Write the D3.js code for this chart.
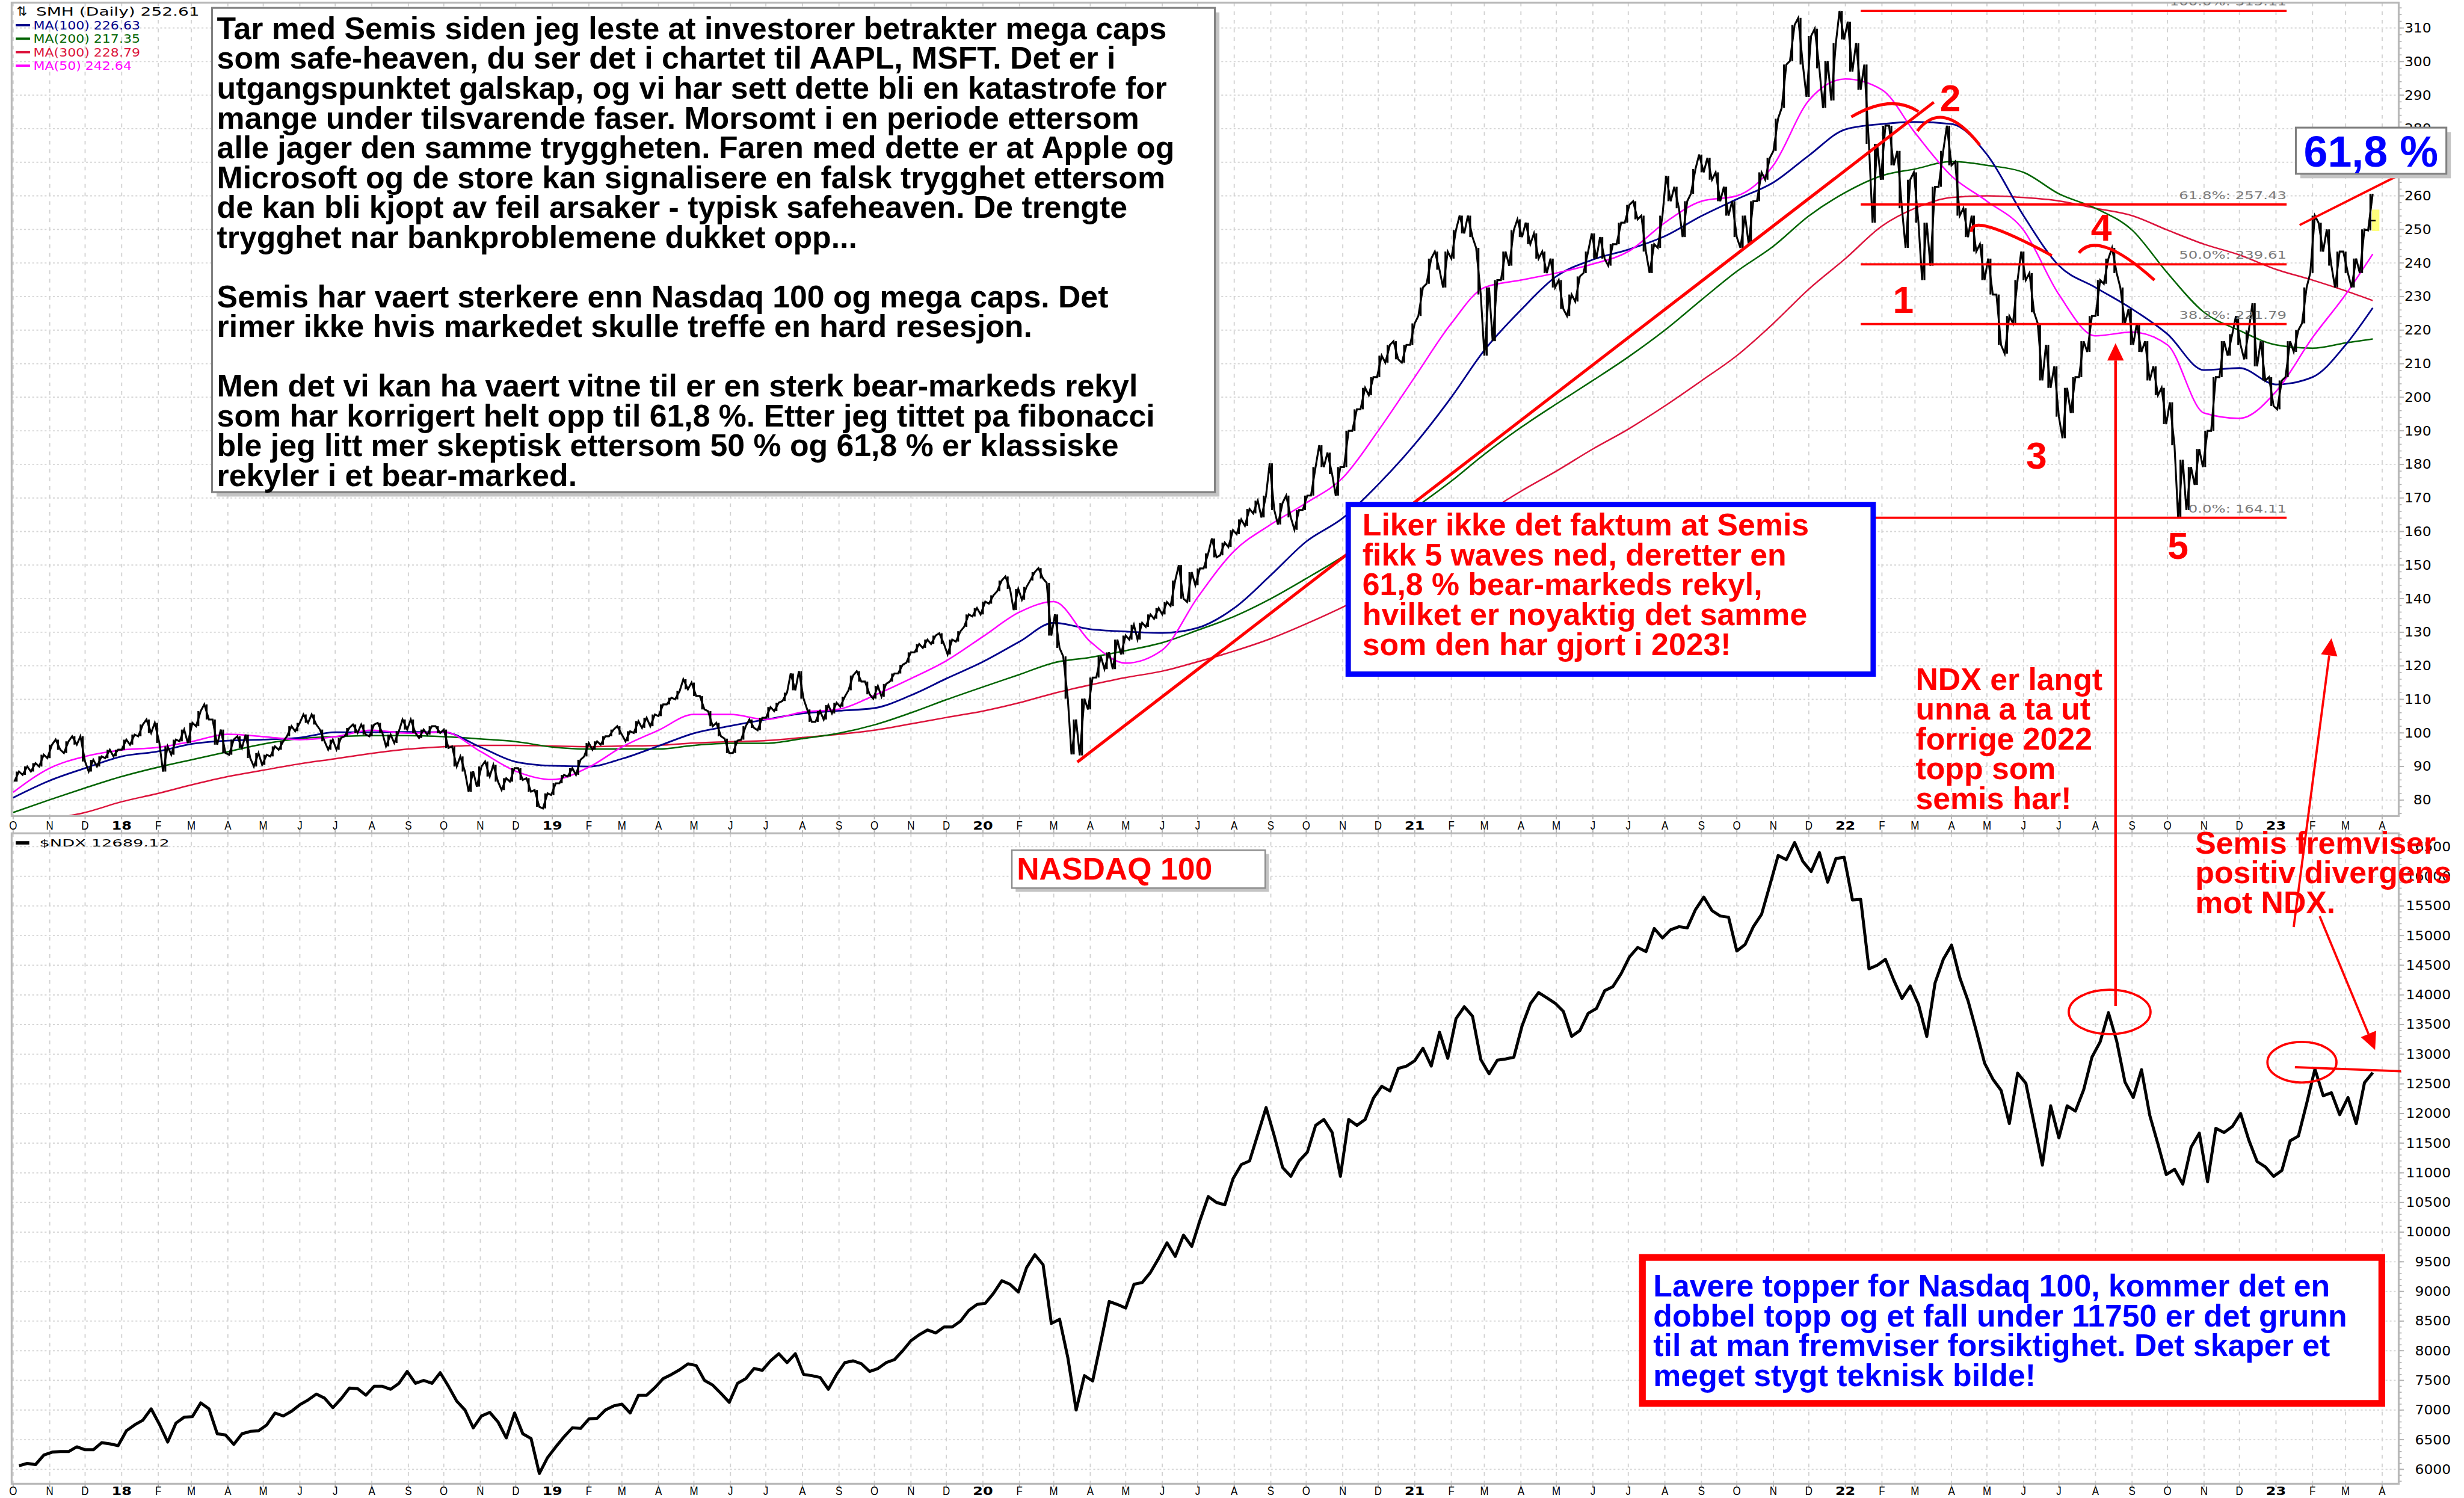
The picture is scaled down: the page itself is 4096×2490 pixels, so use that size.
<!DOCTYPE html>
<html><head><meta charset="utf-8">
<script src="https://cdn.jsdelivr.net/npm/d3@7/dist/d3.min.js"></script>
<style>html,body{margin:0;padding:0;background:#fff;overflow:hidden}svg{display:block}</style>
</head><body>
<svg id="chart" width="4096" height="2490" xmlns="http://www.w3.org/2000/svg"></svg>
<script>
// ================= DATA =================
// SMH weekly ranges [low, high], weeks starting Monday 2017-10-02
const smhFirstWeek = "2017-10-02";
const smh2017 = [[85.5,88.5],[87.5,90],[88.5,91],[90,93.5],[92.5,96.5],[95,98],[94,97.5],[96.5,99],[91.5,99],[88.5,92],[90,93],[92.5,95],[93,95]];
const smh2018 = [[95,98],[96.5,99.5],[99,102.5],[100,104],[97,103],
[88.5,96],[93.5,98],[97.5,101],[97,103],
[102,106.5],[104,108.5],[96.5,104],[94,101],
[93.5,98],[95.5,99],[92.5,99.5],[90,94],[90.5,93.5],
[93,96],[95,97.5],[99,102],[100.5,103],
[103,105.5],[102.5,105.5],[97.5,101],[95,98],
[95,98.5],[99,101.5],[100,102.5],[99.5,102.5],[99,102.5],
[100,103],[96,99.5],[97,100.5],[101,104],
[100,104],[98.5,101],[99.5,102],[100,102],
[95.5,101],[90,96],[88.5,93],[82.5,88.5],[84,90],
[87,91.5],[85.5,90.5],[83,86.5],[85.5,89.5],
[86,89.5],[82.5,86.5],[78,83],[77.5,82],[81.5,85]];
const smh2019 = [[85,87.5],[87,89.5],[87.5,92],[93,97],
[95,97.5],[96.5,99],[99,101],[99.5,102],
[97.5,100.5],[100,103.5],[101.5,104.5],[102,105.5],
[105,108.5],[108.5,110.5],[110,112.5],[113,116],[111,115],
[107,111],[102,106.5],[99,103],[94,98.3],
[94,97.7],[98,102],[101.5,104],[100.8,104.5],
[104.5,107.7],[106.5,109],[109.5,112],[112.7,117.7],[110.2,118.4],
[103.3,107],[103.3,106.5],[104,108.3],[105.8,109],
[107.8,110.8],[112.7,117.1],[115.3,118.4],[111.5,115.3],[110.2,114],
[110.8,114.6],[115.3,117.7],[117.7,120.3],[120.9,124],
[124,126.5],[125.3,127.8],[126.5,129],[126.5,129.7],
[123.4,127.8],[127.2,130.3],[131.6,135.3],[134.7,137.2],[135.3,139.1]];
const smh2020 = [[138.5,141],[142.2,145.4],[142.9,146.6],[136.6,142.9],
[139.7,143.5],[145.4,147.9],[146,149.1],[129,144.7],
[125.3,135.3],[110.2,122.8],[93.6,104],[93.3,110.2],[107,116.5],
[116.5,122.8],[119,124],[119,127.8],[123.4,129],
[127.8,132.2],[127.8,132.8],[131.6,135.3],[134,137.2],
[135.3,139],[137.8,145.4],[140,150],[139,147.9],[144,149],
[149,153.5],[152.3,157.9],[152.9,156.7],[155.4,160.4],
[159.2,163.6],[161.7,166.7],[165.4,169.2],[164.2,170.7],[166.4,180.3],
[162.1,168.5],[164.2,170.7],[160.5,166.4],[166.4,170.7],
[170.7,179.2],[179.2,185.7],[177.1,183.5],[170.7,179.2],
[179.2,190],[190,196.4],[196.4,202.8],[200.6,206],[206,212.4],
[210.3,215.6],[211.3,216.7],[210.3,215.6],[215.6,222]];
const smh2021 = [[224.2,232.7],[233.8,241.3],[238,243.4],[232.7,243.4],
[241.3,249.8],[248.8,254.1],[247.7,254.1],[230.6,244.5],
[212.4,232.7],[216.7,234.9],[234.9,243.4],[239.2,249.8],[247.7,253],
[245.6,252],[241.3,248.8],[237,243.4],[232.7,241.3],
[226.3,234.9],[224.2,230.6],[228.5,236],[237,243.4],[241.3,248.8],
[241.3,247.7],[239.2,245.6],[245.6,252],[252,257.3],
[253,258.4],[243.4,254.1],[237,245.6],[244.5,254.1],
[258.4,265.9],[256.3,262.7],[247.7,258.4],[260.6,268],[267,272.3],
[264.8,271.3],[258.4,267],[254.1,262.7],[247.7,258.4],
[244.5,254.1],[245.6,258.4],[258.4,267],[264.8,271.3],
[273.4,283],[286.2,299.1],[300.2,310.9],[299.1,313],[289.5,307.6],
[298,309.8],[286.2,300.2],[288.4,305.5],[306.6,315.1]];
const smh2022 = [[297,311.9],[291.6,305.5],[275.5,299.1],[252,275.5],[264.8,280.9],
[269.1,280.9],[256.3,273.4],[244.5,264.8],[252,267],
[234.9,252],[239.2,262.7],[262.7,273.4],[269.1,280.9],
[254.1,270.2],[247.7,256.3],[243.4,254.1],[234.9,245.6],
[230.6,241.3],[215.6,230.6],[213,224.2],[222,234.9],[234.9,243.4],
[225.3,237],[205,222],[202.8,215.6],[194.2,209.2],
[187.8,202.8],[195.3,206],[206,216.7],[213.5,224.2],
[224.2,234.9],[233.8,241.3],[237,244.5],[222,232.7],[215.6,226.3],
[213.5,222],[205,216.7],[200.6,209.2],[192,202.8],
[185.7,198.5],[164.1,181.4],[166.4,179.2],[173.9,184.6],[179.2,190],
[190,206],[206,216.7],[212.4,218.8],[215.6,224.2],
[211.3,219.9],[209.2,228],[205,216.7],[197.4,206]];
const smh2023 = [[196.4,205],[206,216.7],[213.5,220],[222,232.7],[237,254.1],
[243.4,252],[239.2,250],[232.7,243.4],[237,243.4],
[232.7,241.3],[237,250],[249.7,260.6]];
const smhLastClose = 252.61;

// Moving averages, monthly readings from 2017-10-01, last value at 2023-03-24
const maFirstMonth = "2017-10-01";
const maLastDate = "2023-03-24";
const ma50 = [82.3,89.5,93,94.9,95.7,97.4,99.6,98.9,98,98.9,100.8,99.9,100.3,94.5,88.6,
86.1,89.8,95.8,100.8,105.5,105.5,104,106.2,107.1,111.2,116.2,121.5,
128.7,136,139.1,127.2,120.8,124.7,140.4,154.2,162.1,168.5,176,190,
206,222,232.7,234.9,237,239.7,243.4,252,258.4,260,269.1,288.4,
294.8,291.6,278.8,265.9,258.4,249.8,230.6,218.3,219.4,215.6,195.3,193.7,
201.7,217.8,230.6,242.64];
const ma100 = [80.7,85.8,89.5,93,94.5,96.7,97.7,98,98.6,100.2,100.2,100.3,100.2,95.8,91.4,
90.2,90,92.3,96.1,99.9,102.1,104,105.8,106.6,107.4,111.2,116.2,
121.2,127.2,132.8,130.9,130.2,129.8,131.3,137.2,147,157,164,174,
186,200,214,226,236,241,244,248,254,259,264,272,
279.8,281.4,282,281.4,272.3,254.1,239.2,232.7,226.3,218.8,208.1,208.7,
203.8,206,215.6,226.63];
const ma200 = [76.3,80.1,83.6,87,89.8,92,94.4,96.7,98.3,98.9,99.2,99.2,98.9,98.2,97.4,
95.8,95.2,95.2,95.2,96.3,96.9,96.9,98.3,99.9,102.4,106,109.9,
113.7,117.4,120.9,122.5,124.5,126.9,130.6,134.7,140,146,152.5,159.5,
167,175,183,191,198,205,212,220,229,237.5,245,254,
261,266,268,270.2,269.1,267,260.6,256.3,249.8,237,225.3,219.9,
215.6,214.6,216.2,217.35];
const ma300 = [71.5,74.2,76.3,79.5,82,84.5,87,88.9,90.8,92.3,93.9,95.2,95.9,96.3,96.3,
96.1,95.9,96.1,96.3,97,97.4,97.7,98.6,99.6,100.8,102.7,104.6,
106.5,109,111.8,114.3,116.5,118.4,121.2,124.4,128.1,132.5,137.5,143,
150,157,165,172,178,184.6,190.5,197.4,204.9,212.4,222,232.2,
241.3,251,256.3,259.5,260,259.5,258.5,256.3,254.1,249.8,245.6,242.4,
238.1,234.9,231.7,228.79];
const maNames = ["MA(100)","MA(200)","MA(300)","MA(50)"];
const maColors = ["#00008b","#006400","#dc143c","#ff00ff"];

// NDX weekly closes, Fridays from 2017-10-06
const ndxFirstFriday = "2017-10-06";
const ndx2017 = [6060,6100,6080,6240,6290,6300,6300,6380,6330,6330,6450,6430,6400];
const ndx2018 = [6650,6750,6830,7020,6760,6460,6780,6880,6890,7120,7020,6600,6580,6420,6600,6640,6650,6750,6950,6900,6980,7090,7170,7270,7200,7040,7190,7370,7360,7250,7400,7400,7350,7450,7650,7450,7500,7450,7630,7400,7150,7000,6700,6900,6960,6800,6530,6950,6600,6520,5930,6200];
const ndx2019 = [6380,6550,6700,6690,6850,6860,7000,7070,7100,6950,7250,7250,7380,7530,7600,7680,7780,7750,7500,7420,7280,7130,7450,7530,7700,7670,7830,7950,7800,7950,7600,7580,7550,7350,7600,7800,7830,7780,7650,7700,7800,7850,8000,8170,8270,8350,8300,8400,8400,8500,8680,8780];
const ndx2020 = [8800,8970,9180,9120,8990,9400,9620,9450,8460,8530,7880,7000,7580,7490,8150,8830,8780,8720,9120,9150,9320,9560,9820,9590,9950,9760,10200,10600,10500,10460,10900,11140,11200,11650,12100,11620,11090,10940,11200,11350,11800,11900,11680,10940,11900,11800,11900,12260,12460,12380,12760,12800];
const ndx2021 = [12890,13100,12800,13370,12930,13600,13800,13640,12910,12670,12900,12920,12950,13480,13850,14040,13950,13860,13720,13300,13400,13690,13770,14070,14140,14360,14640,14800,14730,15120,14960,15100,15150,15130,15440,15650,15420,15330,15310,14740,14850,15150,15360,15850,16350,16280,16570,16250,16080,16400,15900,16300,16320];
const ndx2022 = [15600,15610,14440,14500,14600,14250,13940,14150,13840,13300,14200,14600,14840,14290,13900,13390,12850,12580,12390,11830,12680,12510,11830,11130,12130,11590,12130,12040,12400,12950,13210,13700,13220,12530,12270,12740,11970,11480,10970,11060,10810,11430,11670,10850,11750,11680,11780,12000,11550,11190,11100,10940];
const ndx2023 = [11040,11540,11620,12170,12750,12300,12350,11980,12270,11830,12520,12689.12];
const ndxLast = "12689.12";

// Axis tick values
const smhTicks = d3.range(80, 311, 10);
const ndxTicks = d3.range(6000, 16501, 500);

// Fibonacci retracement
const fibLevels = [315.11, 257.43, 239.61, 221.79, 164.11];
const fibPct = ["100.0%", "61.8%", "50.0%", "38.2%", "0.0%"];
const fibSpan = ["2022-01-14", "2023-01-10"];

// Wave labels [date, value]
const waveText = ["1", "2", "3", "4", "5"];
const wavePos = [["2022-02-19",229.2],["2022-03-31",289.3],["2022-06-12",182.8],["2022-08-06",250.7],["2022-10-10",155.9]];
// Arcs: start, peak, end
const arcs = [
  [["2022-01-06",283.5],["2022-02-06",287.4],["2022-03-04",285.1]],
  [["2022-03-03",279.3],["2022-03-27",283.2],["2022-04-25",275.1]],
  [["2022-04-18",249.3],["2022-05-04",250.6],["2022-06-25",242.2]],
  [["2022-07-18",243.0],["2022-08-11",244.5],["2022-09-20",234.9]]
];
const trendLines = [[["2020-03-21",91.3],["2022-03-17",287.9]], [["2023-01-21",251.3],["2023-04-12",265.6]]];

// Annotation texts
const noteMain = [
"Tar med Semis siden jeg leste at investorer betrakter mega caps",
"som safe-heaven, du ser det i chartet til AAPL, MSFT. Det er i",
"utgangspunktet galskap, og vi har sett dette bli en katastrofe for",
"mange under tilsvarende faser. Morsomt i en periode ettersom",
"alle jager den samme tryggheten. Faren med dette er at Apple og",
"Microsoft og de store kan signalisere en falsk trygghet ettersom",
"de kan bli kjopt av feil arsaker - typisk safeheaven. De trengte",
"trygghet nar bankproblemene dukket opp...",
"",
"Semis har vaert sterkere enn Nasdaq 100 og mega caps. Det",
"rimer ikke hvis markedet skulle treffe en hard resesjon.",
"",
"Men det vi kan ha vaert vitne til er en sterk bear-markeds rekyl",
"som har korrigert helt opp til 61,8 %. Etter jeg tittet pa fibonacci",
"ble jeg litt mer skeptisk ettersom 50 % og 61,8 % er klassiske",
"rekyler i et bear-marked."];
const noteBlue = ["Liker ikke det faktum at Semis","fikk 5 waves ned, deretter en","61,8 % bear-markeds rekyl,","hvilket er noyaktig det samme","som den har gjort i 2023!"];
const noteNdx = ["NDX er langt","unna a ta ut","forrige 2022","topp som","semis har!"];
const noteDiv = ["Semis fremviser","positiv divergens","mot NDX."];
const noteRed = ["Lavere topper for Nasdaq 100, kommer det en","dobbel topp og et fall under 11750 er det grunn","til at man fremviser forsiktighet. Det skaper et","meget stygt teknisk bilde!"];
const ndxTitle = "NASDAQ 100";
const fibBadge = "61,8 %";

// NDX-panel annotations
const ndxCircles = [["2022-08-13",13713],["2023-01-23",12865]];
const ndxFlatLine = [["2023-01-17",12782],["2023-04-17",12712]];

// ================= DRAWING =================
const K = 4096 / 6565;
const pd = d3.utcParse("%Y-%m-%d");
const root = d3.select("#chart").append("g").attr("transform", `scale(${K})`);
const P = {L: 31, R: 6391, T1: 7, B1: 2174, T2: 2220, B2: 3953};
const x = d3.scaleUtc().domain([pd("2017-10-01"), pd("2023-04-01")]).range([35, 6347]);
const y1 = d3.scaleLinear().domain([310, 80]).range([74.6, 2131.5]);
const y2 = d3.scaleLinear().domain([15500, 6000]).range([2413.6, 3914.6]);
const AX = "'DejaVu Sans', sans-serif";
const TX = "'Liberation Sans', Arial, sans-serif";

root.append("rect").attr("width", 6565).attr("height", 3991).attr("fill", "#fff");
const defs = root.append("defs");
defs.append("clipPath").attr("id", "cTop").append("rect")
  .attr("x", P.L).attr("y", P.T1).attr("width", P.R - P.L).attr("height", P.B1 - P.T1);
defs.append("clipPath").attr("id", "cBot").append("rect")
  .attr("x", P.L).attr("y", P.T2).attr("width", P.R - P.L).attr("height", P.B2 - P.T2);

const months = d3.utcMonth.range(pd("2017-10-01"), pd("2023-04-02"));

// ---- grids ----
function grid(top, bot, yScale, vals) {
  const g = root.append("g");
  g.selectAll("line.h").data(vals).join("line")
    .attr("x1", P.L).attr("x2", P.R).attr("y1", d => yScale(d)).attr("y2", d => yScale(d))
    .attr("stroke", "#d6d6d6").attr("stroke-width", 3).attr("stroke-dasharray", "5 6");
  g.selectAll("line.v").data(months).join("line")
    .attr("x1", d => x(d)).attr("x2", d => x(d)).attr("y1", top).attr("y2", bot)
    .attr("stroke", "#d2d2d2").attr("stroke-width", 3).attr("stroke-dasharray", "10 13");
}
grid(P.T1, P.B1, y1, smhTicks);
grid(P.T2, P.B2, y2, ndxTicks);

// ---- SMH price bars (weekly ranges) ----
const smhAll = [].concat(smh2017, smh2018, smh2019, smh2020, smh2021, smh2022, smh2023)
  .map((r, i) => ({date: d3.utcDay.offset(pd(smhFirstWeek), 7 * i + 2), lo: r[0], hi: r[1]}));
const gTop = root.append("g").attr("clip-path", "url(#cTop)");

// MAs
const maSeries = [ma100, ma200, ma300, ma50];
const maDates = ma50.map((_, i) => i < ma50.length - 1 ? d3.utcMonth.offset(pd(maFirstMonth), i) : pd(maLastDate));
const maLine = d3.line().x((d, i) => x(maDates[i])).y(d => y1(d)).curve(d3.curveMonotoneX);
const maWidth = [4.5, 4, 4, 4];
[2, 1, 0, 3].forEach(k => {
  gTop.append("path").attr("d", maLine(maSeries[k])).attr("fill", "none")
    .attr("stroke", maColors[k]).attr("stroke-width", maWidth[k]);
});

// price: vertical range bars plus a zig-zag trace through each week's low/high
const weekPx = x(pd("2017-10-09")) - x(pd("2017-10-02"));
const zig = [];
smhAll.forEach((d, i) => {
  const nxt = smhAll[Math.min(i + 1, smhAll.length - 1)];
  const up = (nxt.lo + nxt.hi) >= (d.lo + d.hi);
  const a = up ? d.lo : d.hi, b = up ? d.hi : d.lo;
  zig.push([x(d.date) - weekPx * 0.28, y1(a)], [x(d.date) + weekPx * 0.28, y1(b)]);
});
gTop.append("path").attr("d", d3.line()(zig)).attr("fill", "none")
  .attr("stroke", "#000").attr("stroke-width", 5).attr("stroke-linejoin", "miter");
gTop.selectAll("line.bar").data(smhAll).join("line")
  .attr("x1", d => x(d.date)).attr("x2", d => x(d.date))
  .attr("y1", d => y1(d.lo)).attr("y2", d => y1(d.hi))
  .attr("stroke", "#000").attr("stroke-width", 5);
// last price marker
const lastBar = smhAll[smhAll.length - 1];
gTop.append("rect").attr("x", x(lastBar.date) + 4).attr("y", y1(smhLastClose + 3.3))
  .attr("width", 20).attr("height", y1(smhLastClose - 3.1) - y1(smhLastClose + 3.3)).attr("fill", "#ffff66").attr("opacity", 0.85);
gTop.append("line").attr("x1", x(lastBar.date)).attr("x2", x(lastBar.date) + 14)
  .attr("y1", y1(smhLastClose)).attr("y2", y1(smhLastClose)).attr("stroke", "#000").attr("stroke-width", 4);

// ---- NDX line ----
const ndxAll = [].concat(ndx2017, ndx2018, ndx2019, ndx2020, ndx2021, ndx2022, ndx2023)
  .map((v, i) => ({date: d3.utcDay.offset(pd(ndxFirstFriday), 7 * i), v}));
const gBot = root.append("g").attr("clip-path", "url(#cBot)");
gBot.append("path").attr("d", d3.line().x(d => x(d.date)).y(d => y2(d.v))(ndxAll))
  .attr("fill", "none").attr("stroke", "#000").attr("stroke-width", 8).attr("stroke-linejoin", "round");

// ---- panel frames ----
[[P.T1, P.B1], [P.T2, P.B2]].forEach(([t, b]) => {
  root.append("rect").attr("x", P.L).attr("y", t).attr("width", P.R - P.L).attr("height", b - t)
    .attr("fill", "none").attr("stroke", "#b9b9b9").attr("stroke-width", 5);
});

// ---- right axes ----
function rightAxis(yScale, minorVals, majorVals, labelX) {
  const g = root.append("g");
  g.selectAll("line.mi").data(minorVals).join("line")
    .attr("x1", P.R + 2).attr("x2", P.R + 8).attr("y1", d => yScale(d)).attr("y2", d => yScale(d))
    .attr("stroke", "#b0b0b0").attr("stroke-width", 2.5);
  g.selectAll("line.ma").data(majorVals).join("line")
    .attr("x1", P.R + 2).attr("x2", P.R + 14).attr("y1", d => yScale(d)).attr("y2", d => yScale(d))
    .attr("stroke", "#b0b0b0").attr("stroke-width", 3);
  g.selectAll("text").data(majorVals).join("text")
    .attr("transform", d => `translate(${labelX},${yScale(d)}) scale(1.14,1)`)
    .attr("text-anchor", "end").attr("dy", "0.36em")
    .attr("font-family", AX).attr("font-size", 33).attr("fill", "#000").text(d => d);
}
rightAxis(y1, d3.range(76, 317, 2), smhTicks, 6478);
rightAxis(y2, d3.range(5800, 16701, 100), ndxTicks, 6530);

// ---- bottom (time) axes ----
function timeAxis(yTop, yLab) {
  const g = root.append("g");
  g.selectAll("line").data(months).join("line")
    .attr("x1", d => x(d)).attr("x2", d => x(d)).attr("y1", yTop).attr("y2", yTop + 9)
    .attr("stroke", "#b0b0b0").attr("stroke-width", 3);
  g.selectAll("text").data(months).join("text")
    .attr("transform", d => `translate(${x(d)},${yLab}) scale(${d.getUTCMonth() === 0 ? 1.2 : 0.85},1)`)
    .attr("text-anchor", "middle").attr("dy", "0.36em")
    .attr("font-family", d => d.getUTCMonth() === 0 ? AX : TX)
    .attr("font-weight", d => d.getUTCMonth() === 0 ? "bold" : "normal")
    .attr("font-size", 32).attr("fill", "#000")
    .text(d => d.getUTCMonth() === 0 ? d3.utcFormat("%y")(d) : d3.utcFormat("%b")(d)[0]);
}
timeAxis(P.B1, 2198);
timeAxis(P.B2, 3972);
root.append("g").selectAll("line").data(months).join("line")
  .attr("x1", d => x(d)).attr("x2", d => x(d)).attr("y1", P.T2 - 8).attr("y2", P.T2)
  .attr("stroke", "#b0b0b0").attr("stroke-width", 3);

// ---- legends ----
const leg = root.append("g").attr("font-family", AX).attr("font-size", 31);
leg.append("text").attr("x", 44).attr("y", 42).attr("font-size", 34).text("\u21C5");
leg.append("text").attr("transform", "translate(96,42) scale(1.45,1)").text("SMH (Daily) " + smhLastClose.toFixed(2));
const maLast = maSeries.map(s => s[s.length - 1]);
maNames.forEach((n, i) => {
  const yy = 67 + i * 36;
  leg.append("line").attr("x1", 42).attr("x2", 80).attr("y1", yy).attr("y2", yy)
    .attr("stroke", maColors[i]).attr("stroke-width", 6);
  leg.append("text").attr("transform", `translate(89,${yy}) scale(1.14,1)`).attr("dy", "0.36em")
    .attr("fill", maColors[i]).text(n + " " + maLast[i].toFixed(2));
});
const leg2 = root.append("g").attr("font-family", AX).attr("font-size", 25);
leg2.append("rect").attr("x", 42).attr("y", 2241).attr("width", 36).attr("height", 9).attr("fill", "#000");
leg2.append("text").attr("transform", "translate(105,2246) scale(1.75,1)").attr("dy", "0.36em").text("$NDX " + ndxLast);

// ---- fibonacci ----
const gFib = root.append("g").attr("clip-path", "url(#cTop)");
fibLevels.forEach((lv, i) => {
  gFib.append("line").attr("x1", x(pd(fibSpan[0]))).attr("x2", x(pd(fibSpan[1])))
    .attr("y1", y1(lv)).attr("y2", y1(lv)).attr("stroke", "#ff0000").attr("stroke-width", 6);
  gFib.append("text").attr("transform", `translate(${x(pd(fibSpan[1]))},${y1(lv) - 24}) scale(1.45,1)`)
    .attr("text-anchor", "end").attr("dy", "0.36em").attr("font-family", AX).attr("font-size", 27)
    .attr("fill", "#7a7a7a").text(fibPct[i] + ": " + lv.toFixed(2));
});

// ---- trend lines, arcs, wave numbers ----
const gAnn = root.append("g");
trendLines.forEach((tl, i) => {
  gAnn.append("line").attr("x1", x(pd(tl[0][0]))).attr("y1", y1(tl[0][1]))
    .attr("x2", x(pd(tl[1][0]))).attr("y2", y1(tl[1][1]))
    .attr("stroke", "#ff0000").attr("stroke-width", i === 0 ? 8 : 6);
});
arcs.forEach(a => {
  const p = a.map(d => [x(pd(d[0])), y1(d[1])]);
  const cx = 2 * p[1][0] - (p[0][0] + p[2][0]) / 2, cy = 2 * p[1][1] - (p[0][1] + p[2][1]) / 2;
  gAnn.append("path").attr("d", `M${p[0][0]},${p[0][1]} Q${cx},${cy} ${p[2][0]},${p[2][1]}`)
    .attr("fill", "none").attr("stroke", "#ff0000").attr("stroke-width", 8);
});
waveText.forEach((t, i) => {
  gAnn.append("text").attr("x", x(pd(wavePos[i][0]))).attr("y", y1(wavePos[i][1]))
    .attr("text-anchor", "middle").attr("dy", "0.36em").attr("font-family", TX).attr("font-weight", "bold")
    .attr("font-size", 100).attr("fill", "#ff0000").text(t);
});

// ---- NDX panel annotations ----
ndxCircles.forEach((c, i) => {
  gAnn.append("ellipse").attr("cx", x(pd(c[0]))).attr("cy", y2(c[1]))
    .attr("rx", i === 0 ? 109 : 92).attr("ry", i === 0 ? 59 : 54)
    .attr("fill", "none").attr("stroke", "#ff0000").attr("stroke-width", 6);
});
gAnn.append("line").attr("x1", x(pd(ndxFlatLine[0][0]))).attr("y1", y2(ndxFlatLine[0][1]))
  .attr("x2", x(pd(ndxFlatLine[1][0]))).attr("y2", y2(ndxFlatLine[1][1]))
  .attr("stroke", "#ff0000").attr("stroke-width", 6);

function arrow(x0, yA, x1a, yB, w) {
  const ang = Math.atan2(yB - yA, x1a - x0);
  const len = 46, hw = 22;
  const bx = x1a - len * Math.cos(ang), by = yB - len * Math.sin(ang);
  gAnn.append("line").attr("x1", x0).attr("y1", yA).attr("x2", bx).attr("y2", by)
    .attr("stroke", "#ff0000").attr("stroke-width", w);
  gAnn.append("path").attr("d", `M${x1a},${yB} L${bx + hw * Math.sin(ang)},${by - hw * Math.cos(ang)} L${bx - hw * Math.sin(ang)},${by + hw * Math.cos(ang)} Z`)
    .attr("fill", "#ff0000");
}
arrow(x(pd("2022-08-18")), y2(13814), x(pd("2022-08-18")), y1(216.1), 7);
arrow(x(pd("2023-01-16")), y2(15143), x(pd("2023-02-17")), y1(128.2), 6);
arrow(x(pd("2023-02-07")), y2(15327), x(pd("2023-03-26")), y2(13073), 6);

// ---- text boxes ----
function box(x0, y0, w, h, stroke, sw, shadow) {
  if (shadow) root.append("rect").attr("x", x0 + shadow).attr("y", y0 + shadow).attr("width", w).attr("height", h).attr("fill", "#c4c4c4");
  root.append("rect").attr("x", x0).attr("y", y0).attr("width", w).attr("height", h)
    .attr("fill", "#fff").attr("stroke", stroke).attr("stroke-width", sw);
}
function lines(arr, x0, yc0, color, size) {
  const g = root.append("g").attr("font-family", TX).attr("font-weight", "bold").attr("font-size", size || 83).attr("fill", color);
  arr.forEach((t, i) => { if (t) g.append("text").attr("x", x0).attr("y", yc0 + i * 79.4).attr("dy", "0.35em").text(t); });
}
box(565, 21, 2672, 1290, "#808080", 5, 12);
lines(noteMain, 578, 75, "#000");

box(3598, 1350, 1387, 440, "#aaaaaa", 3, 0);
root.append("rect").attr("x", 3592).attr("y", 1344).attr("width", 1399).attr("height", 452)
  .attr("fill", "none").attr("stroke", "#0000ff").attr("stroke-width", 14);
lines(noteBlue, 3630, 1398, "#ff0000");

lines(noteNdx, 5104, 1809, "#ff0000");
lines(noteDiv, 5849, 2245, "#ff0000");

box(2696, 2265, 675, 101, "#8c8c8c", 4, 10);
lines([ndxTitle], 2709, 2315, "#ff0000");

root.append("rect").attr("x", 4376).attr("y", 3350).attr("width", 1970).attr("height", 389)
  .attr("fill", "#fff").attr("stroke", "#ff0000").attr("stroke-width", 18);
lines(noteRed, 4405, 3425, "#0000ff");

box(6117, 340, 401, 123, "#808080", 5, 12);
root.append("text").attr("x", 6317).attr("y", 402).attr("dy", "0.36em").attr("text-anchor", "middle")
  .attr("font-family", TX).attr("font-weight", "bold").attr("font-size", 115).attr("fill", "#0000ff").text(fibBadge);
</script>
</body></html>
